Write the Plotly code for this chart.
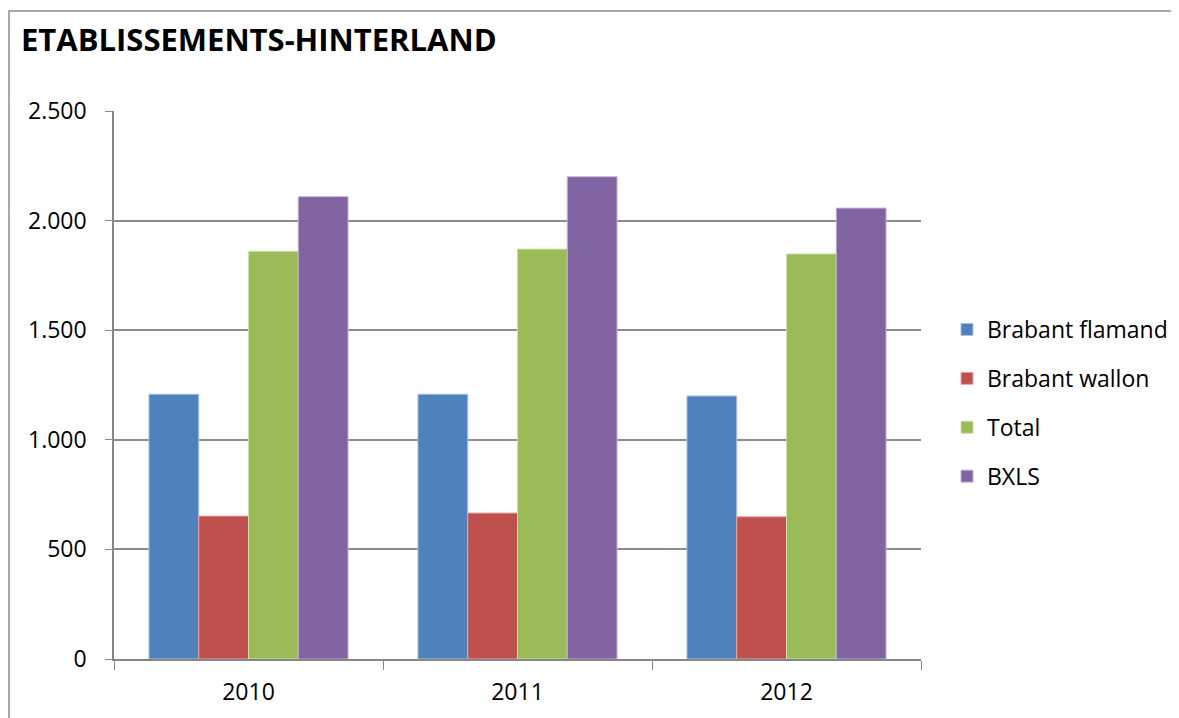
import plotly.graph_objects as go

years = ["2010", "2011", "2012"]
series_names = ["Brabant flamand", "Brabant wallon", "Total", "BXLS"]
brabant_flamand = [1208, 1208, 1200]
brabant_wallon = [652, 666, 649]
total = [1860, 1870, 1848]
bxls = [2109, 2200, 2057]
colors = ["#4F81BD", "#C0504D", "#9BBB59", "#8064A2"]
edge_colors = ["#A9C1E0", "#E2A9A7", "#CFDFAE", "#C0B2D3"]

values = [brabant_flamand, brabant_wallon, total, bxls]

fig = go.Figure()
for i, (name, vals) in enumerate(zip(series_names, values)):
    fig.add_trace(go.Bar(
        x=years, y=vals, name=name, legendgroup=name,
        marker=dict(color=colors[i], line=dict(color=edge_colors[i], width=1)),
    ))

OFF = 8  # page body margin
W, H = 1179 - OFF, 718 - OFF
L = 114 - OFF
R = W - (921 - OFF)
T = 111 - OFF
B = H - (659 - OFF)
pw, ph = W - L - R, H - T - B

def px_x(p):
    return (p - OFF - L) / pw

def px_y(p):
    return (H - B - (p - OFF)) / ph

fig.update_layout(
    width=W, height=H,
    margin=dict(l=L, r=R, t=T, b=B, autoexpand=False),
    paper_bgcolor="white", plot_bgcolor="white",
    barmode="group", bargap=0.26, bargroupgap=0,
    separators=",.",
    font=dict(family="Open Sans", color="#000000", size=23),
    title=dict(text="<b>ETABLISSEMENTS-HINTERLAND</b>",
               x=(21 - OFF) / W, xref="container", xanchor="left",
               y=1 - (40 - OFF) / H, yref="container", yanchor="middle",
               font=dict(family="Open Sans", size=31, color="#000000")),
    legend=dict(x=px_x(947), xanchor="left", y=px_y(403), yanchor="middle",
                font=dict(family="Open Sans", size=23, color="#000000"),
                traceorder="grouped", tracegroupgap=16, itemwidth=30,
                bgcolor="rgba(0,0,0,0)"),
    xaxis=dict(showline=True, linecolor="#868686", linewidth=1.5,
               ticks="outside", tickson="boundaries", ticklen=9, tickcolor="#868686",
               tickfont=dict(size=23), showgrid=False, ticklabelstandoff=12),
    yaxis=dict(range=[0, 2500], tickvals=[0, 500, 1000, 1500, 2000, 2500],
               tickformat=",d", showline=True, linecolor="#868686", linewidth=1.5,
               ticks="outside", ticklen=7, tickcolor="#868686",
               showgrid=True, gridcolor="#8C8C8C", gridwidth=1.5,
               tickfont=dict(size=23), zeroline=False, ticklabelstandoff=14),
    shapes=[dict(type="rect", xref="paper", yref="paper",
                 x0=px_x(9), x1=px_x(1200), y0=px_y(740), y1=px_y(11),
                 line=dict(color="#8C8C8C", width=1.5), layer="below")],
)

fig.write_html("out.html")
